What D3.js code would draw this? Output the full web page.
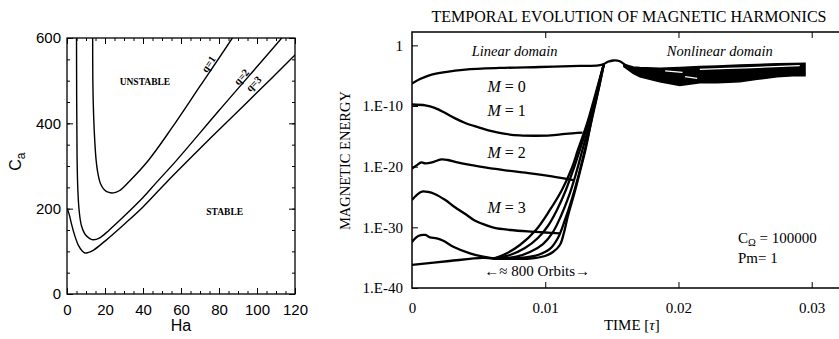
<!DOCTYPE html>
<html>
<head>
<meta charset="utf-8">
<script src="https://cdn.jsdelivr.net/npm/d3@7"></script>
<style>
  body { margin: 0; background: #fff; }
  svg { display: block; }
</style>
</head>
<body>
<div id="chart"></div>
<script>
// ---------- left panel: stability boundaries, Ca against Ha ----------
const haTicks = [0, 20, 40, 60, 80, 100, 120];
const caTicks = [0, 200, 400, 600];
const q1 = [[13.5,630],[13.6,500],[14.0,420],[14.6,360],[15.3,315],[16.3,282],[17.6,259],[19.5,245],[22,238],[24.5,237],
            [27.5,242],[33,265],[42.8,313],[55,388],[70,487],[87,600],[90,622]];
const q2 = [[5.0,630],[5.1,450],[5.3,320],[5.7,245],[6.4,195],[7.6,160],[9.5,140],[12,130],[14,127],[17,131],[22,149],
            [30,182],[40,226],[47,261],[58,315],[80,430],[113,600],[117,622]];
const q3 = [[0,200],[1,189],[2.5,162],[4,138],[6,114],[8,101],[9.5,96],[11,97],[14,103],[20,124],[30,163],[40,204],
            [53,265],[63,310],[80,385],[100,472],[120,560],[125,582]];
const qCurves = [q1, q2, q3];
// label text, position (Ha, Ca), rotation
const qLabels = [["q=1", 74.4, 539, -56], ["q=2", 91.8, 509, -49], ["q=3", 98.2, 493, -45]];
const regionLabels = [["UNSTABLE", 41, 490], ["STABLE", 83, 185]];

// ---------- right panel: magnetic energy (log10) against time ----------
const timeTicks = [0, 0.01, 0.02, 0.03];
const timeTickLabels = ["0", "0.01", "0.02", "0.03"];
const energyTicks = [1, 1e-10, 1e-20, 1e-30, 1e-40];
const energyTickLabels = ["1", "1.E-10", "1.E-20", "1.E-30", "1.E-40"];

const m0 = [[0,-6.3],[0.0006,-5.55],[0.00135,-4.9],[0.0025,-4.4],[0.004,-4.0],[0.0066,-3.73],[0.0096,-3.57],[0.0126,-3.4],
            [0.0140,-3.3],[0.0144,-3.07],[0.0147,-2.7],[0.0151,-2.5],[0.01555,-2.58],[0.0159,-3.05],[0.0162,-3.55]];
const m1 = [[0,-9.75],[0.001,-9.9],[0.0017,-10.3],[0.0025,-11.15],[0.0032,-12],[0.004,-12.8],[0.0049,-13.45],[0.0059,-14.1],
            [0.007,-14.6],[0.0081,-14.85],[0.0092,-14.9],[0.0104,-14.85],[0.0115,-14.6],[0.0128,-14.4]];
const m2 = [[0,-20.3],[0.0004,-19.7],[0.0007,-19.3],[0.001,-19.45],[0.0015,-19.3],[0.0022,-18.8],[0.0027,-18.9],[0.0034,-19.3],
            [0.0051,-20],[0.0070,-20.6],[0.0089,-21.1],[0.0105,-21.6],[0.0121,-22.2]];
const m3 = [[0,-25.5],[0.00045,-24.5],[0.00075,-24.1],[0.0012,-24.17],[0.0017,-24.5],[0.0025,-25.5],[0.0032,-26.65],
            [0.004,-27.8],[0.0047,-28.87],[0.0055,-29.6],[0.0062,-30.1],[0.0074,-30.44],[0.0089,-30.7],[0.01,-30.85],[0.0111,-31.0]];
const m4 = [[0,-32.4],[0.00047,-31.43],[0.001,-31.26],[0.00135,-31.64],[0.00185,-31.81],[0.00235,-32.2],[0.0031,-33.19],
            [0.00435,-34.28],[0.00535,-34.84],[0.0061,-35.1]];
const m5 = [[0,-36.2],[0.0028,-35.55],[0.0053,-35.05],[0.0061,-35.14]];
const g1 = [[0.0061,-35.14],[0.007,-34.4],[0.0081,-32.91],[0.0093,-30.44],[0.01035,-27.14],[0.01125,-23.84],[0.012,-20.22],
            [0.01245,-17.25],[0.01313,-12.96],[0.01373,-8.35],[0.0144,-3.07]];
const g2 = [[0.0061,-35.14],[0.00735,-34.56],[0.00848,-33.41],[0.00945,-31.76],[0.0102,-29.78],[0.01088,-27.14],[0.01155,-23.84],
            [0.01215,-20.22],[0.0126,-17.25],[0.0132,-12.96],[0.0138,-8.18],[0.0144,-3.07]];
const g3 = [[0.0061,-35.14],[0.00773,-34.89],[0.00885,-34.07],[0.00983,-32.75],[0.01058,-30.77],[0.01118,-28.13],[0.01178,-24.83],
            [0.0123,-21.21],[0.01275,-17.58],[0.01328,-13.29],[0.01388,-8.35],[0.0144,-3.07]];
const g4 = [[0.0061,-35.14],[0.0081,-35.05],[0.00945,-34.56],[0.01035,-33.57],[0.01095,-31.76],[0.01148,-28.79],[0.012,-25.33],
            [0.01245,-21.87],[0.0129,-17.91],[0.01335,-13.62],[0.01388,-8.51],[0.0144,-3.07]];
const g5 = [[0.0061,-35.14],[0.00885,-35.14],[0.00998,-34.72],[0.01058,-34.07],[0.0111,-32.91],[0.0114,-30.93],[0.0117,-28.13],
            [0.01215,-24.67],[0.0126,-20.88],[0.01305,-16.92],[0.0135,-11.98],[0.01395,-7.03],[0.0144,-3.07]];
const energySeries = [m0, m1, m2, m3, m4, m5, g1, g2, g3, g4, g5];

// nonlinear domain: the curves pile up into one thick band
const bandTime = [0.0159, 0.0166, 0.0171, 0.0186, 0.0201, 0.0216, 0.0229, 0.0246, 0.0259, 0.0274, 0.0286, 0.0295];
const bandHigh = [-3.1, -3.55, -3.65, -3.78, -3.65, -3.5, -3.4, -3.25, -3.15, -3.05, -3.0, -2.96];
const bandLow  = [-3.5, -4.6, -5.17, -5.99, -6.6, -6.16, -6.16, -5.99, -5.6, -5.17, -5.0, -5.0];
const bandGaps = [[[0.019,-4.2],[0.0203,-4.45]], [[0.0205,-5.17],[0.0214,-5.43]], [[0.0216,-3.95],[0.025,-3.7],[0.0291,-3.35]]];

// ---------- drawing ----------
const W = 839, H = 339;
const svg = d3.select("#chart").append("svg")
  .attr("width", W).attr("height", H)
  .attr("viewBox", `0 0 ${W} ${H}`);

const SANS = "'Liberation Sans', Arial, sans-serif";
const SERIF = "'Liberation Serif', 'Times New Roman', serif";

// ----- left panel -----
const PL = { left: 67, right: 295, top: 38, bottom: 294 };
const xHa = d3.scaleLinear().domain([0, 120]).range([PL.left, PL.right]);
const yCa = d3.scaleLinear().domain([0, 600]).range([PL.bottom, PL.top]);

svg.append("clipPath").attr("id", "clipL").append("rect")
  .attr("x", PL.left).attr("y", PL.top)
  .attr("width", PL.right - PL.left).attr("height", PL.bottom - PL.top);

const left = svg.append("g");

function tickAxis(g, axis) {
  g.call(axis);
  g.select(".domain").remove();
  g.selectAll(".tick line").attr("stroke", "#000").attr("stroke-width", 1);
}

// minor + major ticks on all four sides, pointing inward
tickAxis(left.append("g").attr("transform", `translate(0,${PL.bottom})`),
  d3.axisBottom(xHa).tickValues(d3.range(0, 121, 5)).tickSize(-3).tickFormat(""));
tickAxis(left.append("g").attr("transform", `translate(0,${PL.top})`),
  d3.axisTop(xHa).tickValues(d3.range(0, 121, 5)).tickSize(-3).tickFormat(""));
tickAxis(left.append("g").attr("transform", `translate(0,${PL.top})`),
  d3.axisTop(xHa).tickValues(haTicks).tickSize(-6).tickFormat(""));
tickAxis(left.append("g").attr("transform", `translate(${PL.left},0)`),
  d3.axisLeft(yCa).tickValues(d3.range(0, 601, 50)).tickSize(-3).tickFormat(""));
tickAxis(left.append("g").attr("transform", `translate(${PL.right},0)`),
  d3.axisRight(yCa).tickValues(d3.range(0, 601, 50)).tickSize(-3).tickFormat(""));
tickAxis(left.append("g").attr("transform", `translate(${PL.right},0)`),
  d3.axisRight(yCa).tickValues(caTicks).tickSize(-6).tickFormat(""));

const haAxis = left.append("g").attr("transform", `translate(0,${PL.bottom})`);
tickAxis(haAxis, d3.axisBottom(xHa).tickValues(haTicks).tickSize(-6).tickPadding(10));
haAxis.selectAll("text").attr("font-family", SANS).attr("font-size", 15).attr("fill", "#000");

const caAxis = left.append("g").attr("transform", `translate(${PL.left},0)`);
tickAxis(caAxis, d3.axisLeft(yCa).tickValues(caTicks).tickSize(-6).tickPadding(6));
caAxis.selectAll("text").attr("font-family", SANS).attr("font-size", 15).attr("fill", "#000");

left.append("rect")
  .attr("x", PL.left).attr("y", PL.top)
  .attr("width", PL.right - PL.left).attr("height", PL.bottom - PL.top)
  .attr("fill", "none").attr("stroke", "#000").attr("stroke-width", 1.3);

const qLine = d3.line()
  .x(d => xHa(d[0]))
  .y(d => yCa(d[1]))
  .curve(d3.curveCatmullRom.alpha(0.5));

left.append("g").attr("clip-path", "url(#clipL)")
  .selectAll("path").data(qCurves).join("path")
  .attr("d", qLine)
  .attr("fill", "none").attr("stroke", "#000").attr("stroke-width", 1.4);

left.selectAll(".qlab").data(qLabels).join("text")
  .attr("class", "qlab")
  .attr("transform", d => `translate(${xHa(d[1])},${yCa(d[2])}) rotate(${d[3]})`)
  .attr("text-anchor", "middle").attr("dy", "0.35em")
  .attr("font-family", SERIF).attr("font-size", 10.5).attr("font-weight", "bold")
  .text(d => d[0]);

left.selectAll(".rlab").data(regionLabels).join("text")
  .attr("class", "rlab")
  .attr("x", d => xHa(d[1])).attr("y", d => yCa(d[2]))
  .attr("text-anchor", "middle")
  .attr("font-family", SERIF).attr("font-size", 9.5).attr("font-weight", "bold")
  .text(d => d[0]);

left.append("text")
  .attr("x", xHa(60)).attr("y", 331)
  .attr("text-anchor", "middle")
  .attr("font-family", SANS).attr("font-size", 16)
  .text("Ha");

const caTitle = left.append("text")
  .attr("transform", `translate(21,${yCa(310)}) rotate(-90)`)
  .attr("text-anchor", "middle")
  .attr("font-family", SANS).attr("font-size", 16);
caTitle.append("tspan").text("C");
caTitle.append("tspan").attr("dy", 4).attr("font-size", 12).text("a");

// ----- right panel -----
const PR = { left: 412, right: 865, top: 32, bottom: 288 };
const xT = d3.scaleLinear().domain([0, 0.034]).range([PR.left, PR.right]);
const yE = d3.scaleLog().domain([1e-40, Math.pow(10, 2.2)]).range([PR.bottom, PR.top]);

svg.append("clipPath").attr("id", "clipR").append("rect")
  .attr("x", PR.left).attr("y", PR.top)
  .attr("width", PR.right - PR.left).attr("height", PR.bottom - PR.top);

const right = svg.append("g");

const tAxis = right.append("g").attr("transform", `translate(0,${PR.bottom})`);
tickAxis(tAxis, d3.axisBottom(xT).tickValues(timeTicks).tickSize(-6).tickPadding(14)
  .tickFormat((d, i) => timeTickLabels[i]));
tAxis.selectAll("text").attr("font-family", SERIF).attr("font-size", 15).attr("fill", "#000");
tAxis.selectAll(".tick line").filter(d => d === 0).remove();

tickAxis(right.append("g").attr("transform", `translate(0,${PR.top})`),
  d3.axisTop(xT).tickValues(timeTicks.slice(1)).tickSize(-6).tickFormat(""));

const eAxis = right.append("g").attr("transform", `translate(${PR.left},0)`);
tickAxis(eAxis, d3.axisLeft(yE).tickValues(energyTicks).tickSize(-6).tickPadding(9)
  .tickFormat((d, i) => energyTickLabels[i]));
eAxis.selectAll("text").attr("font-family", SERIF).attr("font-size", 15).attr("fill", "#000");

right.append("path")
  .attr("d", `M${PR.right},${PR.top}H${PR.left}V${PR.bottom}H${PR.right}`)
  .attr("fill", "none").attr("stroke", "#000").attr("stroke-width", 1.5);

const eLine = d3.line()
  .x(d => xT(d[0]))
  .y(d => yE(Math.pow(10, d[1])))
  .curve(d3.curveCatmullRom.alpha(0.5));

const plot = right.append("g").attr("clip-path", "url(#clipR)");

const band = d3.area()
  .x((d, i) => xT(bandTime[i]))
  .y0((d, i) => yE(Math.pow(10, bandLow[i])))
  .y1((d, i) => yE(Math.pow(10, bandHigh[i])))
  .curve(d3.curveLinear);

plot.append("path")
  .attr("d", band(bandTime))
  .attr("fill", "#000").attr("stroke", "#000").attr("stroke-width", 1.5);

plot.selectAll(".gap").data(bandGaps).join("path")
  .attr("class", "gap")
  .attr("d", eLine)
  .attr("fill", "none").attr("stroke", "#fff").attr("stroke-width", 1.2);

plot.selectAll(".series").data(energySeries).join("path")
  .attr("class", "series")
  .attr("d", eLine)
  .attr("fill", "none").attr("stroke", "#000").attr("stroke-width", 2.3)
  .attr("stroke-linejoin", "round");

// texts
right.append("text")
  .attr("x", 629).attr("y", 22)
  .attr("text-anchor", "middle")
  .attr("font-family", SERIF).attr("font-size", 16)
  .text("TEMPORAL EVOLUTION OF MAGNETIC HARMONICS");

right.append("text")
  .attr("transform", `translate(350,${yE(1e-19)}) rotate(-90)`)
  .attr("text-anchor", "middle")
  .attr("font-family", SERIF).attr("font-size", 14.5)
  .text("MAGNETIC ENERGY");

const tTitle = right.append("text")
  .attr("x", xT(0.0165)).attr("y", 330)
  .attr("text-anchor", "middle")
  .attr("font-family", SERIF).attr("font-size", 15);
tTitle.append("tspan").text("TIME [");
tTitle.append("tspan").attr("font-style", "italic").text("\u03c4");
tTitle.append("tspan").text("]");

right.append("text")
  .attr("x", xT(0.0077)).attr("y", 56)
  .attr("text-anchor", "middle")
  .attr("font-family", SERIF).attr("font-size", 14.5).attr("font-style", "italic")
  .text("Linear domain");
right.append("text")
  .attr("x", xT(0.0231)).attr("y", 56)
  .attr("text-anchor", "middle")
  .attr("font-family", SERIF).attr("font-size", 14.5).attr("font-style", "italic")
  .text("Nonlinear domain");

const mLabels = [["0", -7.75], ["1", -11.6], ["2", -18.5], ["3", -27.6]];
mLabels.forEach(([m, e]) => {
  const t = right.append("text")
    .attr("x", xT(0.0071)).attr("y", yE(Math.pow(10, e)))
    .attr("text-anchor", "middle")
    .attr("font-family", SERIF).attr("font-size", 16)
    .attr("xml:space", "preserve");
  t.append("tspan").attr("font-style", "italic").text("M");
  t.append("tspan").text(" = " + m);
});

right.append("text")
  .attr("x", xT(0.0094)).attr("y", 276)
  .attr("text-anchor", "middle")
  .attr("font-family", SERIF).attr("font-size", 15)
  .text("\u2190\u2248 800 Orbits\u2192");

const cLab = right.append("text")
  .attr("x", 738).attr("y", 243)
  .attr("font-family", SERIF).attr("font-size", 15);
cLab.append("tspan").text("C");
cLab.append("tspan").attr("dy", 3).attr("font-size", 10.5).text("\u03a9");
cLab.append("tspan").attr("dy", -3).text(" = 100000");

right.append("text")
  .attr("x", 738).attr("y", 263)
  .attr("font-family", SERIF).attr("font-size", 15)
  .text("Pm= 1");
</script>
</body>
</html>
